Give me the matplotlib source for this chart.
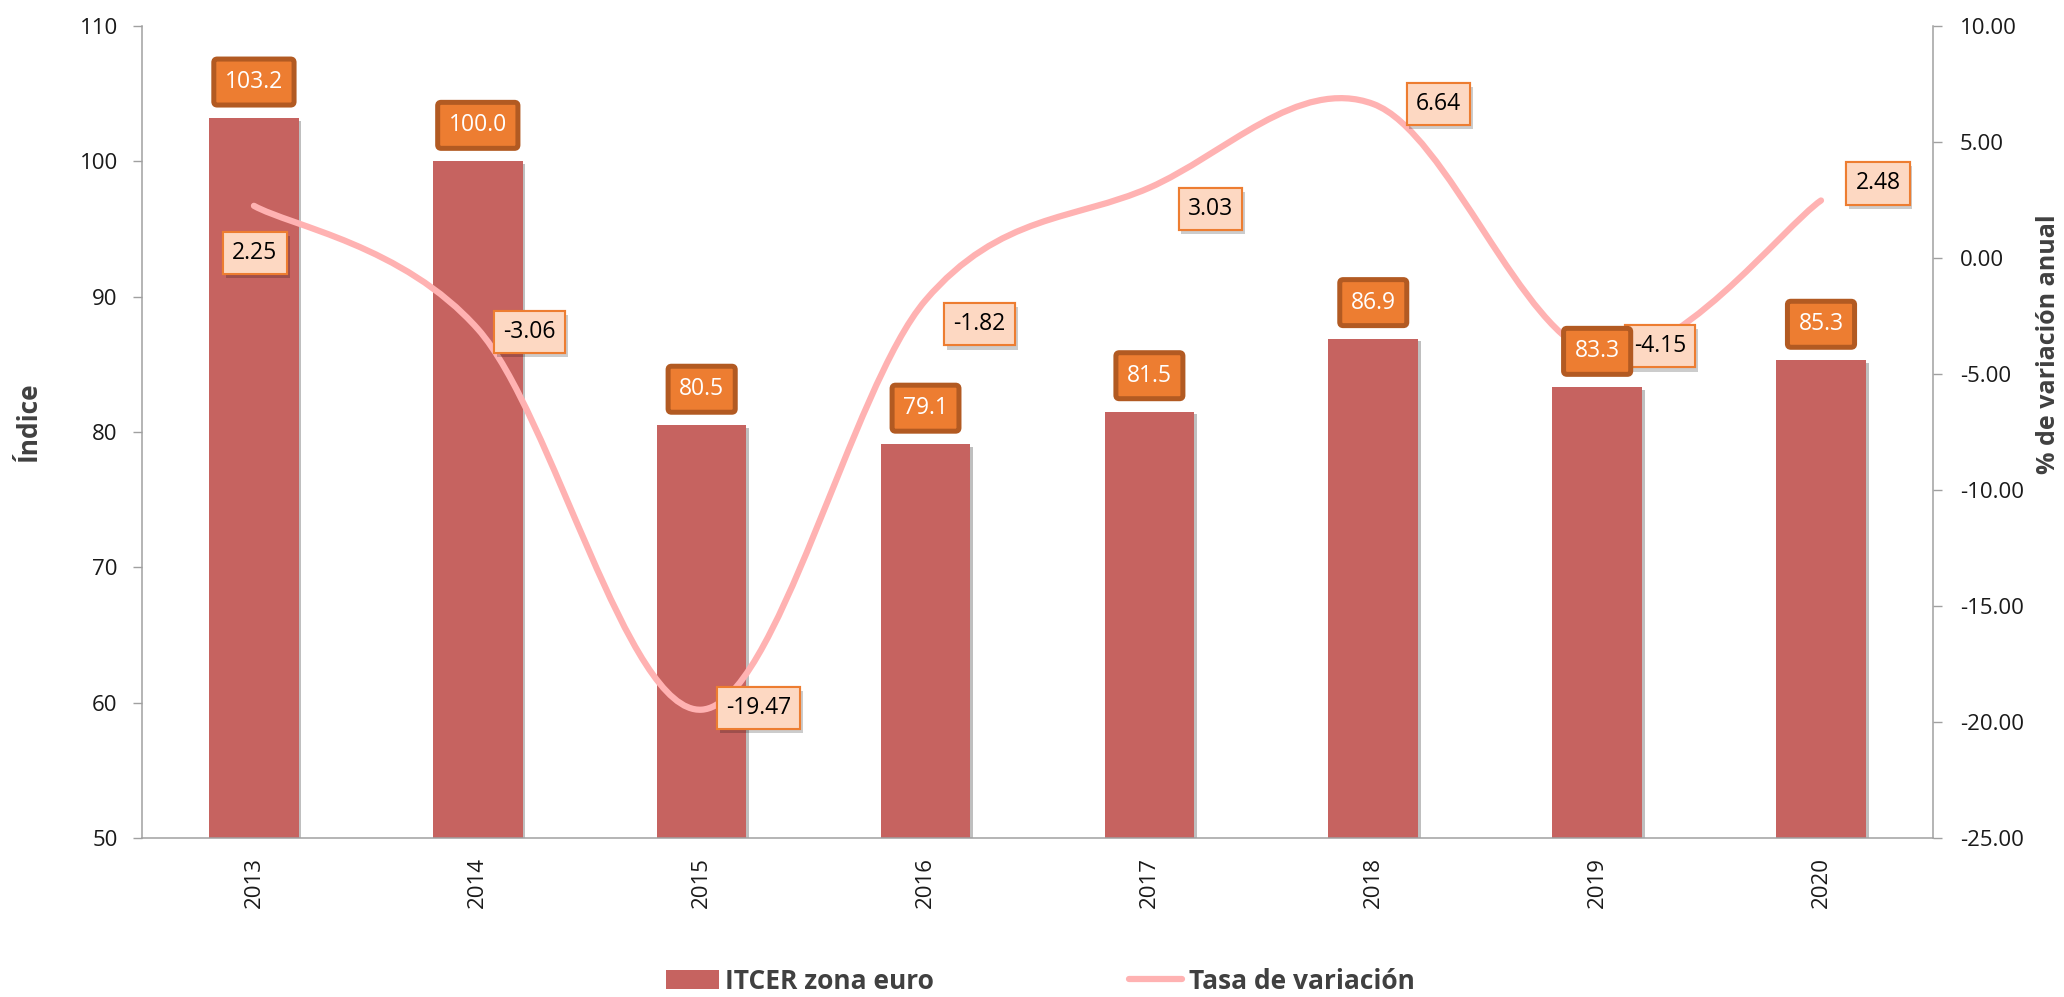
import numpy as np
import matplotlib
matplotlib.use('Agg')
import matplotlib.pyplot as plt
import matplotlib.patheffects as pe
from matplotlib.path import Path
from matplotlib.patches import PathPatch, Patch
from matplotlib.lines import Line2D

years = ['2013', '2014', '2015', '2016', '2017', '2018', '2019', '2020']
itcer = [103.2, 100.0, 80.5, 79.1, 81.5, 86.9, 83.3, 85.3]
tasa = [2.25, -3.06, -19.47, -1.82, 3.03, 6.64, -4.15, 2.48]

# where each rate label sits relative to its point (pixels)
tasa_offsets = [(1, -47), (52, -3), (57, 2), (54, -24), (61, -21), (65, 0), (63, 8), (57, 17)]

bar_color = '#C66360'
line_color = '#FFB2B2'
axis_gray = '#A0A0A0'
text_dark = '#404040'

plt.rcParams['font.family'] = ['Open Sans', 'DejaVu Sans']


def smooth_path(x, y):
    # bezier through the points, same idea as excel's smoothed line
    pts = np.column_stack([x, y]).astype(float)
    n = len(pts)
    verts = [pts[0]]
    codes = [Path.MOVETO]
    for i in range(n - 1):
        p0 = pts[max(i - 1, 0)]
        p1 = pts[i]
        p2 = pts[i + 1]
        p3 = pts[min(i + 2, n - 1)]
        verts += [p1 + (p2 - p0) / 6, p2 - (p3 - p1) / 6, p2]
        codes += [Path.CURVE4] * 3
    return Path(verts, codes)


fig = plt.figure(figsize=(20.64, 9.97), dpi=100)
ax = fig.add_axes([0.0688, 0.1595, 0.8677, 0.8144])
ax2 = ax.twinx()

x = np.arange(len(years))
bars = ax.bar(x, itcer, width=0.4, color=bar_color, zorder=2)
for b in bars:
    b.set_path_effects([pe.withSimplePatchShadow(offset=(2, -2), shadow_rgbFace='k', alpha=0.25),
                        pe.Normal()])

ax.set_xlim(-0.5, len(years) - 0.5)
ax.set_ylim(50, 110)
ax.set_yticks(np.arange(50, 111, 10))
ax.set_xticks(x)
ax.set_xticklabels(years, rotation=90)

ax2.set_ylim(-25, 10)
ax2.set_yticks(np.arange(-25, 10.1, 5))
ax2.set_yticklabels(['%.2f' % v for v in np.arange(-25, 10.1, 5)])

curve = PathPatch(smooth_path(x, tasa), fill=False, edgecolor=line_color, lw=4.5,
                  capstyle='round', joinstyle='round', zorder=3)
ax2.add_patch(curve)

for a in (ax, ax2):
    a.spines['top'].set_visible(False)
    for s in a.spines.values():
        s.set_color(axis_gray)
        s.set_linewidth(1.1)
ax2.spines['left'].set_visible(False)
ax2.spines['bottom'].set_visible(False)
ax.spines['right'].set_visible(False)

ax.tick_params(axis='y', length=6.5, width=1, color=axis_gray, pad=11, labelsize=16, labelcolor='#1a1a1a')
ax.tick_params(axis='x', length=0, pad=14, labelsize=16, labelcolor='#1a1a1a')
ax2.tick_params(axis='y', length=6.5, width=1, color=axis_gray, pad=13, labelsize=16, labelcolor='#1a1a1a')

ax.set_ylabel('Índice', fontsize=19, fontweight='bold', color=text_dark)
ax.yaxis.set_label_coords(-0.0637, 0.513)
ax.yaxis.label.set_va('center')
ax2.set_ylabel('% de variación anual', fontsize=18, fontweight='bold', color=text_dark, rotation=90)
ax2.yaxis.set_label_coords(1.0648, 0.608)
ax2.yaxis.label.set_va('center')

# labels for the index bars
for xi, v in zip(x, itcer):
    ax2.annotate('%.1f' % v, xy=(xi, v), xycoords=ax.transData,
                 xytext=(0, 36), textcoords='offset pixels', ha='center', va='center',
                 fontsize=16.5, color='white', zorder=6,
                 bbox=dict(boxstyle='round,pad=0.48,rounding_size=0.15', fc='#ED7D31',
                           ec='#B25A22', lw=3.6))

# labels for the rate line
for xi, v, off in zip(x, tasa, tasa_offsets):
    t = ax2.annotate('%.2f' % v, xy=(xi, v), xytext=off, textcoords='offset pixels',
                     ha='center', va='center', fontsize=16.5, color='black', zorder=5,
                     bbox=dict(boxstyle='square,pad=0.4', fc='#FDD8C2', ec='#ED7D31', lw=1.5))
    t.get_bbox_patch().set_path_effects([
        pe.withSimplePatchShadow(offset=(2, -3), shadow_rgbFace='k', alpha=0.2), pe.Normal()])

handles = [Patch(facecolor=bar_color, edgecolor='none'),
           Line2D([], [], color=line_color, lw=4.5, solid_capstyle='round')]
fig.legend(handles, ['ITCER zona euro', 'Tasa de variación'], loc='center',
           bbox_to_anchor=(0.504, 0.016), ncol=2, frameon=False,
           prop=dict(size=19, weight='bold'), labelcolor=text_dark,
           handlelength=2.0, handletextpad=0.25, columnspacing=7.4)

fig.savefig('out.png', dpi=100, facecolor='white')
